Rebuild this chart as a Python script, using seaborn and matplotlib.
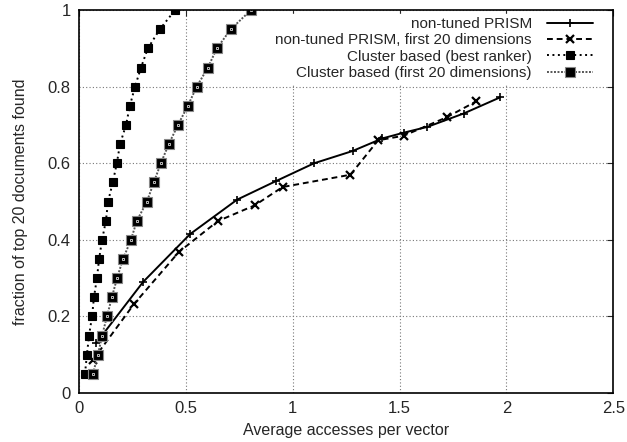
import matplotlib
matplotlib.use('Agg')
import matplotlib.pyplot as plt
import numpy as np
import pandas as pd
import seaborn as sns

# non-tuned PRISM
prism_x = [0.08, 0.30, 0.52, 0.74, 0.92, 1.10, 1.28, 1.42, 1.52, 1.63, 1.80, 1.97]
prism_y = [0.13, 0.29, 0.415, 0.505, 0.553, 0.60, 0.632, 0.665, 0.68, 0.695, 0.73, 0.772]

# non-tuned PRISM, first 20 dimensions
prism20_x = [0.065, 0.257, 0.467, 0.65, 0.822, 0.953, 1.27, 1.40, 1.52, 1.72, 1.86]
prism20_y = [0.086, 0.232, 0.368, 0.449, 0.49, 0.538, 0.57, 0.66, 0.672, 0.72, 0.762]

# Cluster based (best ranker)
best_x = [0.028, 0.037, 0.047, 0.061, 0.070, 0.084, 0.094, 0.108, 0.126, 0.136,
          0.158, 0.177, 0.192, 0.220, 0.238, 0.262, 0.290, 0.322, 0.378, 0.449]
best_y = [0.05, 0.10, 0.15, 0.20, 0.25, 0.30, 0.35, 0.40, 0.45, 0.50,
          0.55, 0.60, 0.65, 0.70, 0.75, 0.80, 0.85, 0.90, 0.95, 1.00]

# Cluster based (first 20 dimensions)
c20_x = [0.065, 0.089, 0.108, 0.131, 0.154, 0.178, 0.206, 0.243, 0.271, 0.318,
         0.350, 0.383, 0.420, 0.463, 0.509, 0.551, 0.603, 0.645, 0.710, 0.804]
c20_y = [0.05, 0.10, 0.15, 0.20, 0.25, 0.30, 0.35, 0.40, 0.45, 0.50,
         0.55, 0.60, 0.65, 0.70, 0.75, 0.80, 0.85, 0.90, 0.95, 1.00]

labels = ['non-tuned PRISM', 'non-tuned PRISM, first 20 dimensions',
          'Cluster based (best ranker)', 'Cluster based (first 20 dimensions)']

sns.set_style('white')
plt.rcParams['font.family'] = ['Liberation Sans', 'DejaVu Sans']

fig = plt.figure(figsize=(6.27, 4.42), dpi=100)
ax = fig.add_axes([0.126, 0.111, 0.852, 0.866])

series = [
    (prism_x, prism_y, dict(color='black', lw=1.4, ls='-', marker='+', ms=6,
                            mec='black', mew=1.2)),
    (prism20_x, prism20_y, dict(color='black', lw=1.4, ls=(0, (3, 2)), marker='x', ms=5.5,
                                mec='black', mew=1.6)),
    (best_x, best_y, dict(color='black', lw=1.4, ls=(0, (1, 1.8)), marker='s', ms=5.5,
                          mfc='black', mec='black', mew=0.8)),
    (c20_x, c20_y, dict(color='#555555', lw=1.4, ls=(0, (1, 0.8)), marker='s', ms=6.5,
                        mfc='black', mec='#888888', mew=0.8)),
]

for (x, y, kw), lab in zip(series, labels):
    df = pd.DataFrame({'x': x, 'y': y})
    sns.lineplot(data=df, x='x', y='y', ax=ax, sort=False, label=lab, **kw)

# small light inner mark of the "first 20 dimensions" cluster squares
ax.plot(c20_x, c20_y, ls='none', marker='s', ms=2.0, mfc='none', mec='#bbbbbb', mew=0.7)

ax.set_xlim(0, 2.5)
ax.set_ylim(0, 1)
ax.set_xticks(np.arange(0, 2.51, 0.5))
ax.set_xticklabels(['0', '0.5', '1', '1.5', '2', '2.5'])
ax.set_yticks(np.arange(0, 1.01, 0.2))
ax.set_yticklabels(['0', '0.2', '0.4', '0.6', '0.8', '1'])
ax.tick_params(labelsize=12, length=4, direction='in', top=True, right=True, pad=6)
ax.grid(True, color='#777777', ls=(0, (1, 2)), lw=0.8)
for s in ax.spines.values():
    s.set_color('black')
    s.set_linewidth(1.2)
ax.set_xlabel('Average accesses per vector', fontsize=11.5, labelpad=5)
ax.set_ylabel('fraction of top 20 documents found', fontsize=11.5, labelpad=14)

# markerfirst=False right-aligns each row, so texts end just before the handles
ax.legend(loc='upper right', bbox_to_anchor=(0.968, 0.99), markerfirst=False,
          frameon=True, framealpha=1, edgecolor='white', fontsize=11,
          handlelength=3.0, borderpad=0.2, labelspacing=0.15, handletextpad=1.0,
          borderaxespad=0)

fig.savefig('out.png', dpi=100)
